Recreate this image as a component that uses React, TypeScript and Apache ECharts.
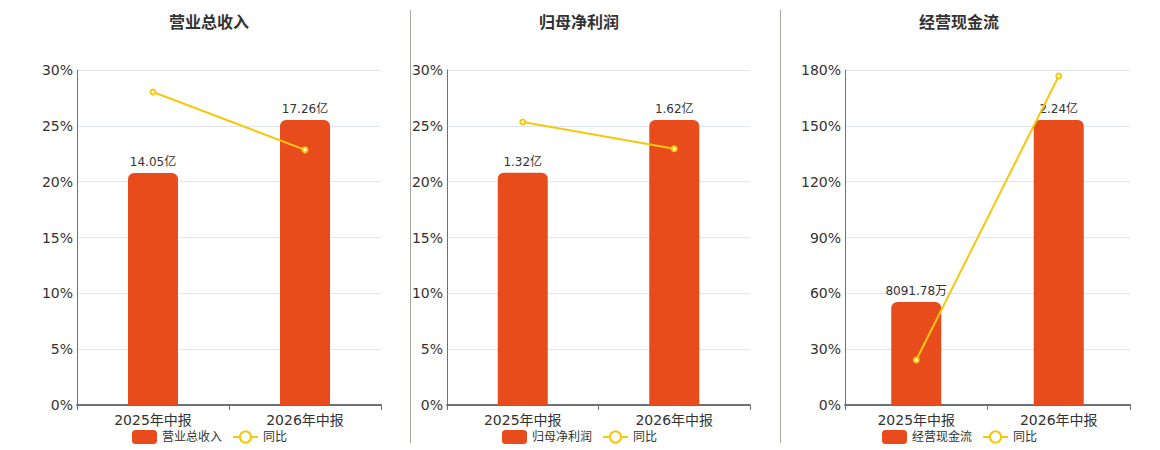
import React, { useEffect, useRef } from "react";
import * as echarts from "echarts";

const categories = ["2025年中报", "2026年中报"];

const titles = ["营业总收入", "归母净利润", "经营现金流"];

const revenueValues = [14.05, 17.26];
const revenueLabels = ["14.05亿", "17.26亿"];
const revenueYoY = [28.03, 22.85];

const profitValues = [1.32, 1.62];
const profitLabels = ["1.32亿", "1.62亿"];
const profitYoY = [25.34, 22.95];

const cashValues = [0.809178, 2.24];
const cashLabels = ["8091.78万", "2.24亿"];
const cashYoY = [24.2, 176.8];

const pctMax = [30, 30, 180];
const pctInterval = [5, 5, 30];

const FONT = "DejaVu Sans, 'Noto Sans CJK SC', sans-serif";
const BAR_COLOR = "#E84C1D";
const LINE_COLOR = "#F5C80E";

export default function App() {
  const ref = useRef<HTMLDivElement>(null);

  useEffect(() => {
    if (!ref.current) return;
    const chart = echarts.init(ref.current, null, { renderer: "svg" });

    const panels = [
      { values: revenueValues, labels: revenueLabels, yoy: revenueYoY },
      { values: profitValues, labels: profitLabels, yoy: profitYoY },
      { values: cashValues, labels: cashLabels, yoy: cashYoY },
    ];
    const gridPos = [
      { left: 77, right: 1160 - 381 },
      { left: 447, right: 1160 - 750 },
      { left: 845, right: 1160 - 1130 },
    ];
    const centers = [204, 574, 954];
    const legendLeft = [127, 497, 877];

    const grid: any[] = [];
    const xAxis: any[] = [];
    const yAxis: any[] = [];
    const series: any[] = [];
    const legend: any[] = [];
    const title: any[] = [];

    panels.forEach((p, i) => {
      grid.push({ left: gridPos[i].left, right: gridPos[i].right, top: 70, bottom: 45 });
      xAxis.push({
        type: "category",
        gridIndex: i,
        data: categories,
        axisLine: { lineStyle: { color: "#6e7079", width: 2 } },
        axisTick: { show: true, lineStyle: { color: "#6e7079" } },
        axisLabel: { color: "#333", fontSize: 14, fontFamily: FONT, margin: 8 },
      });
      yAxis.push({
        type: "value",
        gridIndex: i,
        min: 0,
        max: pctMax[i],
        interval: pctInterval[i],
        axisLine: { show: true, lineStyle: { color: "#6e7079" } },
        axisTick: { show: false },
        axisLabel: { color: "#333", fontSize: 14, fontFamily: FONT, formatter: "{value}%", margin: 4 },
        splitLine: { lineStyle: { color: "#e0e6f1" } },
      });
      const maxBar = Math.max(...p.values);
      yAxis.push({
        type: "value",
        gridIndex: i,
        min: 0,
        max: maxBar / 0.851,
        show: false,
        splitLine: { show: false },
      });
      series.push({
        type: "bar",
        name: titles[i],
        xAxisIndex: i,
        yAxisIndex: i * 2 + 1,
        data: p.values,
        barWidth: 50,
        itemStyle: { color: BAR_COLOR, borderRadius: [6, 6, 0, 0] },
        label: {
          show: true,
          position: "top",
          color: "#333",
          fontSize: 12,
          fontFamily: FONT,
          formatter: (d: any) => p.labels[d.dataIndex],
        },
      });
      series.push({
        type: "line",
        name: "同比",
        xAxisIndex: i,
        yAxisIndex: i * 2,
        data: p.yoy,
        symbol: "emptyCircle",
        symbolSize: 5,
        lineStyle: { color: LINE_COLOR, width: 2 },
        itemStyle: { color: LINE_COLOR },
      });
      legend.push({
        left: legendLeft[i],
        top: 425,
        itemWidth: 25,
        itemHeight: 14,
        itemGap: 10,
        data: [titles[i], "同比"],
        textStyle: { color: "#333", fontSize: 12, fontFamily: FONT },
      });
      title.push({
        text: titles[i],
        left: centers[i],
        textAlign: "center",
        top: 9,
        textStyle: { color: "#333", fontSize: 16, fontWeight: "bold", fontFamily: FONT },
      });
    });

    chart.setOption({
      animation: false,
      backgroundColor: "#fff",
      title,
      grid,
      xAxis,
      yAxis,
      series,
      legend,
      graphic: [
        { type: "line", shape: { x1: 410.5, y1: 10, x2: 410.5, y2: 443 }, style: { stroke: "#a8a8a0", lineWidth: 1 } },
        { type: "line", shape: { x1: 780.5, y1: 10, x2: 780.5, y2: 443 }, style: { stroke: "#a8a8a0", lineWidth: 1 } },
      ],
    });

    return () => chart.dispose();
  }, []);

  return (
    <div
      ref={ref}
      style={{ position: "fixed", left: 0, top: 0, width: 1160, height: 450 }}
    />
  );
}
